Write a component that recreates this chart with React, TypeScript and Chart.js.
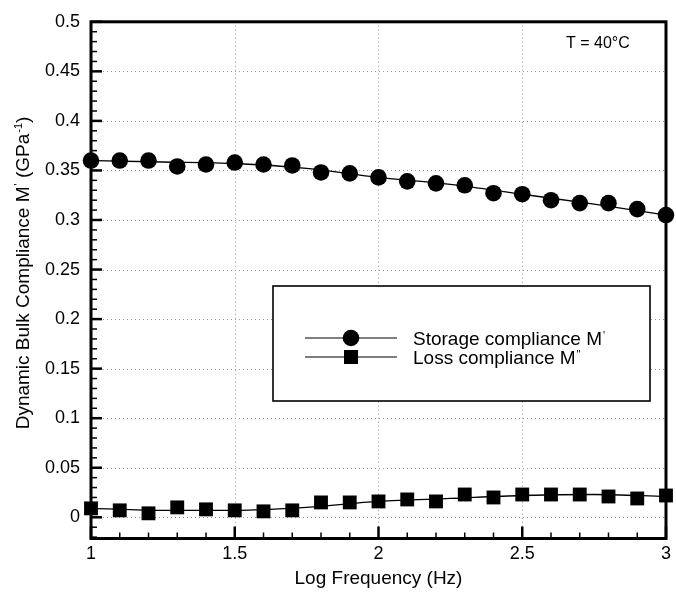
import { useEffect, useRef } from 'react';
import { Chart, registerables } from 'chart.js';

Chart.register(...registerables);

// ---- data ----
const logFreq = [1.0, 1.1, 1.2, 1.3, 1.4, 1.5, 1.6, 1.7, 1.8, 1.9, 2.0, 2.1, 2.2, 2.3, 2.4, 2.5, 2.6, 2.7, 2.8, 2.9, 3.0];
const storage = [0.360, 0.360, 0.360, 0.354, 0.356, 0.358, 0.356, 0.355, 0.348, 0.347, 0.343, 0.339, 0.337, 0.335, 0.327, 0.326, 0.320, 0.317, 0.317, 0.311, 0.305];
const loss = [0.009, 0.007, 0.004, 0.010, 0.008, 0.007, 0.006, 0.007, 0.015, 0.015, 0.016, 0.018, 0.016, 0.023, 0.020, 0.023, 0.023, 0.023, 0.021, 0.019, 0.022];
const fitX = [1.0, 1.25, 1.5, 1.75, 2.0, 2.25, 2.5, 2.75, 3.0];
const storageFit = [0.360, 0.3585, 0.357, 0.352, 0.343, 0.336, 0.326, 0.316, 0.305];
const lossFit = [0.009, 0.007, 0.007, 0.010, 0.016, 0.019, 0.022, 0.023, 0.021];
const xTicks = [1, 1.5, 2, 2.5, 3];
const yTicks = [0, 0.05, 0.1, 0.15, 0.2, 0.25, 0.3, 0.35, 0.4, 0.45, 0.5];
const seriesNames = ['Storage compliance M', 'Loss compliance M'];
const seriesSup = ["'", '"'];
const yTitle = ['Dynamic Bulk Compliance M', "'", ' (GPa', '-1', ')'];
const xTitle = 'Log Frequency (Hz)';
const annotation = 'T = 40\u00B0C';

const FONT = '"Liberation Sans", Arial, Helvetica, sans-serif';

const fmt = (v: number) => String(Number(v.toFixed(3)));

const decorPlugin = {
  id: 'decor',
  beforeDatasetsDraw(chart: any) {
    const { ctx, chartArea: a, scales } = chart;
    const xs = scales.x;
    const ys = scales.y;
    ctx.save();
    // dotted grid
    ctx.strokeStyle = '#9a9a9a';
    ctx.lineWidth = 1;
    ctx.setLineDash([1, 3]);
    for (const v of xTicks) {
      if (v <= 1 || v >= 3) continue;
      const px = Math.round(xs.getPixelForValue(v)) + 0.5;
      ctx.beginPath();
      ctx.moveTo(px, a.top);
      ctx.lineTo(px, a.bottom);
      ctx.stroke();
    }
    for (const v of yTicks) {
      if (v >= 0.5) continue;
      const py = Math.round(ys.getPixelForValue(v)) + 0.5;
      ctx.beginPath();
      ctx.moveTo(a.left, py);
      ctx.lineTo(a.right, py);
      ctx.stroke();
    }
    ctx.setLineDash([]);
    ctx.strokeStyle = '#000';
    // y ticks (inward)
    for (let i = -2; i <= 50; i++) {
      const v = i / 100;
      const major = i % 5 === 0;
      const py = ys.getPixelForValue(v);
      if (py > a.bottom - 1) continue;
      ctx.lineWidth = major ? 2.5 : 1.5;
      ctx.beginPath();
      ctx.moveTo(a.left, py);
      ctx.lineTo(a.left + (major ? 11 : 6), py);
      ctx.stroke();
    }
    // x ticks (inward)
    for (let i = 10; i <= 30; i++) {
      const v = i / 10;
      const major = i % 5 === 0;
      const px = xs.getPixelForValue(v);
      ctx.lineWidth = major ? 2.5 : 1.5;
      ctx.beginPath();
      ctx.moveTo(px, a.bottom);
      ctx.lineTo(px, a.bottom - (major ? 12 : 6));
      ctx.stroke();
    }
    // frame
    ctx.lineWidth = 3;
    ctx.strokeRect(a.left, a.top, a.right - a.left, a.bottom - a.top);

    // legend box
    ctx.fillStyle = '#fff';
    ctx.fillRect(273, 286, 377, 115);
    ctx.lineWidth = 1.6;
    ctx.strokeRect(273, 286, 377, 115);
    const rows = [338, 357];
    rows.forEach((ry, k) => {
      ctx.strokeStyle = '#000';
      ctx.lineWidth = 1.2;
      ctx.beginPath();
      ctx.moveTo(305, ry);
      ctx.lineTo(397, ry);
      ctx.stroke();
      ctx.fillStyle = '#000';
      if (k === 0) {
        ctx.beginPath();
        ctx.arc(351, ry, 8.3, 0, Math.PI * 2);
        ctx.fill();
      } else {
        ctx.fillRect(351 - 7, ry - 7, 14, 14);
      }
      ctx.font = `19px ${FONT}`;
      ctx.textBaseline = 'alphabetic';
      ctx.textAlign = 'left';
      ctx.fillText(seriesNames[k], 413, ry + 7);
      const w = ctx.measureText(seriesNames[k]).width;
      ctx.font = `11px ${FONT}`;
      ctx.fillText(seriesSup[k], 413 + w + 1, ry + 1);
    });

    // annotation
    ctx.fillStyle = '#000';
    ctx.font = `16px ${FONT}`;
    ctx.textAlign = 'left';
    ctx.textBaseline = 'middle';
    ctx.fillText(annotation, 566, 44);

    // x title
    ctx.font = `19px ${FONT}`;
    ctx.textAlign = 'center';
    ctx.fillText(xTitle, (a.left + a.right) / 2, 579);

    // y title (rotated)
    ctx.translate(22, 273);
    ctx.rotate(-Math.PI / 2);
    ctx.textBaseline = 'alphabetic';
    const big = `19px ${FONT}`;
    const small = `11px ${FONT}`;
    const parts = yTitle.map((t, i) => ({ t, sup: i === 1 || i === 3 }));
    let total = 0;
    for (const p of parts) {
      ctx.font = p.sup ? small : big;
      total += ctx.measureText(p.t).width + (p.sup ? 1 : 0);
    }
    let cx = -total / 2;
    ctx.textAlign = 'left';
    for (const p of parts) {
      ctx.font = p.sup ? small : big;
      ctx.fillText(p.t, cx + (p.sup ? 1 : 0), p.sup ? 0 : 7);
      cx += ctx.measureText(p.t).width + (p.sup ? 1 : 0);
    }
    ctx.restore();
  },
};

export default function App() {
  const ref = useRef<HTMLCanvasElement | null>(null);
  useEffect(() => {
    document.body.style.margin = '0';
    const canvas = ref.current;
    if (!canvas) return;
    const chart = new Chart(canvas, {
      type: 'line',
      data: {
        datasets: [
          {
            label: 'storage fit',
            data: fitX.map((x, i) => ({ x, y: storageFit[i] })),
            borderColor: '#000',
            borderWidth: 1.3,
            pointRadius: 0,
            tension: 0.4,
            cubicInterpolationMode: 'monotone',
            clip: false,
          },
          {
            label: 'loss fit',
            data: fitX.map((x, i) => ({ x, y: lossFit[i] })),
            borderColor: '#000',
            borderWidth: 1.3,
            pointRadius: 0,
            tension: 0.4,
            cubicInterpolationMode: 'monotone',
            clip: false,
          },
          {
            label: seriesNames[0],
            data: logFreq.map((x, i) => ({ x, y: storage[i] })),
            showLine: false,
            pointStyle: 'circle',
            pointRadius: 8.3,
            pointBackgroundColor: '#000',
            pointBorderColor: '#000',
            pointBorderWidth: 0,
            clip: false,
          },
          {
            label: seriesNames[1],
            data: logFreq.map((x, i) => ({ x, y: loss[i] })),
            showLine: false,
            pointStyle: 'rect',
            pointRadius: 9.8,
            pointBackgroundColor: '#000',
            pointBorderColor: '#000',
            pointBorderWidth: 0,
            clip: false,
          },
        ],
      },
      options: {
        animation: false,
        responsive: false,
        devicePixelRatio: 1,
        layout: { padding: { top: 14, right: 7, left: 0, bottom: 0 } },
        plugins: { legend: { display: false }, tooltip: { enabled: false } },
        scales: {
          x: {
            type: 'linear',
            min: 1,
            max: 3,
            afterBuildTicks: (s: any) => { s.ticks = xTicks.map((v) => ({ value: v })); },
            afterFit: (s: any) => { s.height = 57.5; },
            grid: { display: false, drawTicks: false },
            border: { display: false },
            ticks: {
              color: '#000',
              font: { family: FONT, size: 18 },
              padding: 5,
              maxRotation: 0,
              callback: (v: any) => fmt(Number(v)),
            },
          },
          y: {
            type: 'linear',
            min: -0.0214,
            max: 0.5,
            afterBuildTicks: (s: any) => { s.ticks = yTicks.map((v) => ({ value: v })); },
            afterFit: (s: any) => { s.width = 91; },
            grid: { display: false, drawTicks: false },
            border: { display: false },
            ticks: {
              color: '#000',
              font: { family: FONT, size: 18 },
              padding: 11,
              callback: (v: any) => fmt(Number(v)),
            },
          },
        },
      },
      plugins: [decorPlugin],
    } as any);
    return () => chart.destroy();
  }, []);
  return (
    <div style={{ width: 676, height: 596 }}>
      <canvas ref={ref} width={676} height={596} />
    </div>
  );
}
